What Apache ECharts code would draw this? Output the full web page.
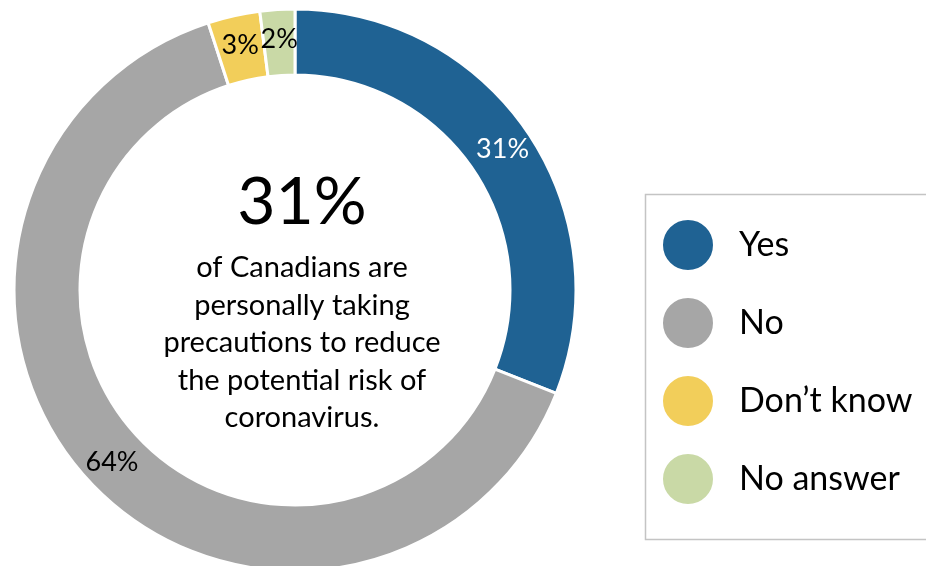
<!DOCTYPE html>
<html>
<head>
<meta charset="utf-8">
<script src="https://cdn.jsdelivr.net/npm/echarts@6/dist/echarts.min.js"></script>
<style>
  html, body { margin: 0; padding: 0; background: #ffffff; }
  #chart { width: 926px; height: 566px; }
</style>
</head>
<body>
<div id="chart"></div>
<script>
// Survey answers, in clockwise order from 12 o'clock
var categories = ['Yes', 'No', 'Don\u2019t know', 'No answer'];
var values = [31, 64, 3, 2];
var sliceColors = ['#1F6293', '#A6A6A6', '#F2CE5A', '#C9D9A6'];
var labelColors = ['#ffffff', '#000000', '#000000', '#000000'];
var centerCaption = [
  'of Canadians are',
  'personally taking',
  'precautions to reduce',
  'the potential risk of',
  'coronavirus.'
];

var FONT = 'Lato, "Open Sans", sans-serif';

var chart = echarts.init(document.getElementById('chart'), null, { renderer: 'canvas' });

var pieData = categories.map(function (name, i) {
  return {
    name: name,
    value: values[i],
    itemStyle: { color: sliceColors[i] },
    label: { color: labelColors[i] }
  };
});

chart.setOption({
  backgroundColor: '#ffffff',
  animation: false,
  graphic: [
    {
      type: 'rect',
      left: 643,
      top: 192,
      shape: { width: 300, height: 345 },
      style: { fill: 'none', stroke: '#C4C4C4', lineWidth: 1.5 },
      z: 0
    },
    {
      type: 'text',
      x: 302,
      y: 203,
      style: {
        text: values[0] + '%',
        font: '400 66px ' + FONT,
        fill: '#000000',
        align: 'center',
        verticalAlign: 'middle'
      }
    },
    {
      type: 'text',
      x: 302,
      y: 343,
      style: {
        text: centerCaption.join('\n'),
        font: '400 29px ' + FONT,
        lineHeight: 37.5,
        fill: '#000000',
        align: 'center',
        verticalAlign: 'middle'
      }
    }
  ],
  legend: {
    orient: 'vertical',
    left: 661,
    top: 218,
    padding: 0,
    itemWidth: 52,
    itemHeight: 52,
    itemGap: 24,
    icon: 'circle',
    selectedMode: false,
    textStyle: {
      fontFamily: FONT,
      fontSize: 34,
      color: '#000000',
      padding: [0, 0, 0, 20]
    },
    data: categories
  },
  series: [
    {
      type: 'pie',
      center: [295, 290],
      radius: [215, 281],
      startAngle: 90,
      clockwise: true,
      avoidLabelOverlap: false,
      itemStyle: { borderColor: '#ffffff', borderWidth: 3 },
      label: {
        show: true,
        position: 'inside',
        formatter: '{c}%',
        fontFamily: FONT,
        fontSize: 27
      },
      labelLine: { show: false },
      emphasis: { disabled: true },
      data: pieData
    }
  ]
});
</script>
</body>
</html>
